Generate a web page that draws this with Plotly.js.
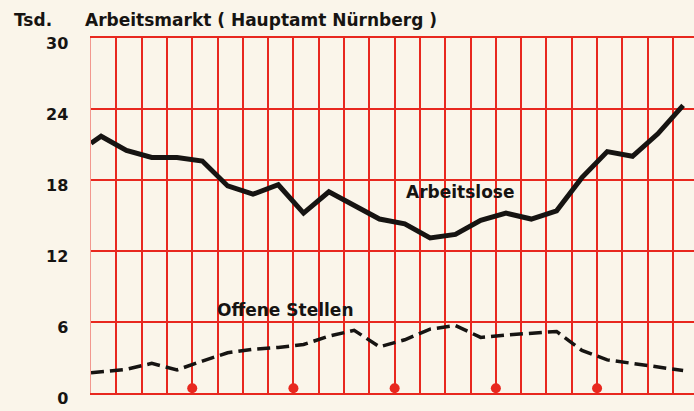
<!DOCTYPE html>
<html>
<head>
<meta charset="utf-8">
<script src="https://cdn.plot.ly/plotly-3.0.1.min.js"></script>
<style>html,body{margin:0;padding:0;background:#faf5ea;}</style>
</head>
<body>
<div id="chart" style="width:694px;height:411px;"></div>
<script>
// Months (grid lines at integers; readings taken mid-month)
const months = [0, 0.4, 1.4, 2.4, 3.4, 4.4, 5.4, 6.4, 7.4, 8.4, 9.4, 10.4, 11.4, 12.4, 13.4, 14.4, 15.4, 16.4, 17.4, 18.4, 19.4, 20.4, 21.4, 22.4, 23.4];
// Arbeitslose (Tsd.)
const arbeitslose = [21.1, 21.7, 20.5, 19.9, 19.9, 19.6, 17.5, 16.8, 17.6, 15.2, 17.0, 15.8, 14.7, 14.3, 13.1, 13.4, 14.6, 15.2, 14.7, 15.4, 18.2, 20.4, 20.0, 21.9, 24.3];
// Offene Stellen (Tsd.)
const offeneStellen = [1.7, 1.8, 2.0, 2.5, 1.95, 2.7, 3.4, 3.7, 3.85, 4.1, 4.8, 5.3, 3.9, 4.5, 5.4, 5.7, 4.7, 4.9, 5.05, 5.2, 3.6, 2.8, 2.5, 2.2, 1.9];
// Red markers on the time axis
const markerMonths = [4, 8, 12, 16, 20];
const markerValues = [0.4, 0.4, 0.4, 0.4, 0.4];
const yTicks = [0, 6, 12, 18, 24, 30];

const red = '#e8281f';
const ink = '#161412';
const font = 'DejaVu Sans, sans-serif';

const traces = [
  {x: months, y: arbeitslose, type: 'scatter', mode: 'lines',
   line: {color: ink, width: 5, shape: 'linear'}, hoverinfo: 'skip'},
  {x: months, y: offeneStellen, type: 'scatter', mode: 'lines',
   line: {color: ink, width: 3.5, dash: '13px,6px'}, hoverinfo: 'skip'},
  {x: markerMonths, y: markerValues, type: 'scatter', mode: 'markers',
   marker: {color: red, size: 10}, cliponaxis: false, hoverinfo: 'skip'}
];

const layout = {
  width: 694, height: 411,
  margin: {l: 91, r: 0, t: 38, b: 18},
  paper_bgcolor: '#faf5ea',
  plot_bgcolor: '#faf5ea',
  showlegend: false,
  xaxis: {
    range: [0, 23.83], dtick: 1, tick0: 0,
    showgrid: true, gridcolor: red, gridwidth: 2,
    showticklabels: false, ticks: '', zeroline: false,
    showline: true, mirror: true, linecolor: red, linewidth: 2,
    fixedrange: true
  },
  yaxis: {
    range: [0, 30], tickvals: yTicks,
    showgrid: true, gridcolor: red, gridwidth: 2,
    zeroline: true, zerolinecolor: red, zerolinewidth: 2,
    ticks: '', showline: true, linecolor: 'rgba(232,40,31,0.45)', linewidth: 1.5,
    tickfont: {family: font, size: 16, color: ink, weight: 'bold'},
    ticklabelstandoff: 18, ticklabelshift: 5,
    fixedrange: true
  },
  annotations: [
    {xref: 'paper', yref: 'paper', x: -0.131, y: 1.052, xanchor: 'left', yanchor: 'middle',
     text: '<b>Tsd.</b>', showarrow: false, font: {family: font, size: 17, color: ink}},
    {xref: 'paper', yref: 'paper', x: -0.014, y: 1.05, xanchor: 'left', yanchor: 'middle',
     text: '<b>Arbeitsmarkt ( Hauptamt Nürnberg )</b>', showarrow: false, font: {family: font, size: 17, color: ink}},
    {x: 14.6, y: 17.0, xanchor: 'center', yanchor: 'middle',
     text: '<b>Arbeitslose</b>', showarrow: false, font: {family: font, size: 17, color: ink}},
    {x: 7.7, y: 7.0, xanchor: 'center', yanchor: 'middle',
     text: '<b>Offene Stellen</b>', showarrow: false, font: {family: font, size: 17, color: ink}}
  ]
};

Plotly.newPlot('chart', traces, layout, {displayModeBar: false, staticPlot: true});
</script>
</body>
</html>
